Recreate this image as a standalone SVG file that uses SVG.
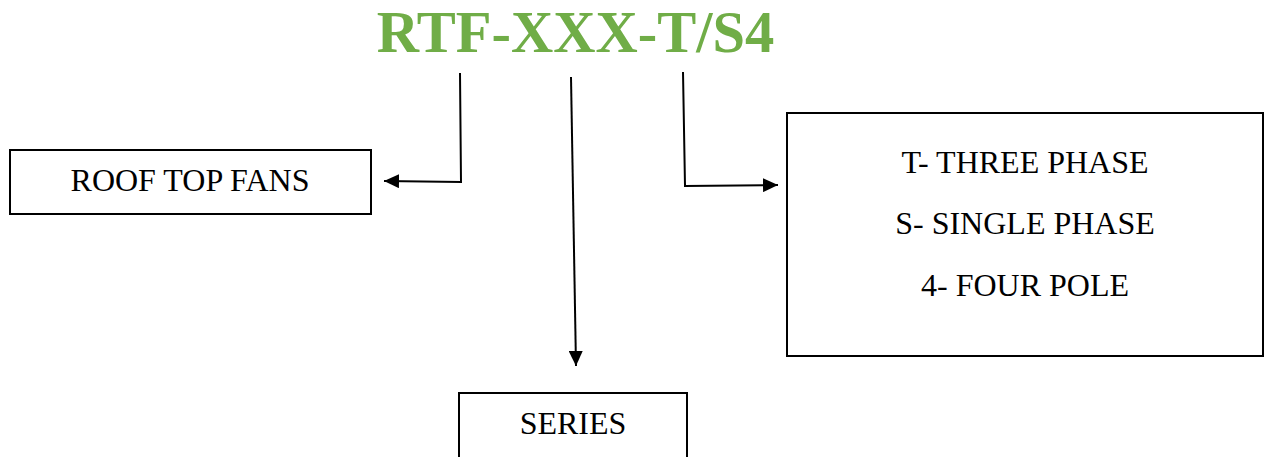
<svg xmlns="http://www.w3.org/2000/svg" width="1268" height="457" viewBox="0 0 1268 457">
  <style>
    .box { fill: #ffffff; stroke: #000000; stroke-width: 2; }
    .label { font-family: "Liberation Serif", "Times New Roman", serif; font-size: 32px; fill: #000000; text-anchor: middle; }
    .title { font-family: "Liberation Serif", "Times New Roman", serif; font-size: 58.5px; font-weight: bold; fill: #70AD47; text-anchor: middle; }
    .link { fill: none; stroke: #000000; stroke-width: 2; }
  </style>
  <defs>
    <marker id="arrow" viewBox="0 0 15 14" refX="15" refY="7" markerWidth="15" markerHeight="14" markerUnits="userSpaceOnUse" orient="auto">
      <path d="M0,0 L15,7 L0,14 Z" fill="#000000"/>
    </marker>
  </defs>
  <rect width="1268" height="457" fill="#ffffff"/>

  <g id="title">
    <text class="title" x="575.5" y="52">RTF-XXX-T/S4</text>
  </g>

  <g id="node-roof-top-fans">
    <rect class="box" x="10" y="150" width="361" height="64"/>
    <text class="label" x="190" y="191">ROOF TOP FANS</text>
  </g>

  <g id="node-phase">
    <rect class="box" x="787" y="113" width="476" height="243"/>
    <text class="label" x="1025" y="173">T- THREE PHASE</text>
    <text class="label" x="1025" y="234">S- SINGLE PHASE</text>
    <text class="label" x="1025" y="296">4- FOUR POLE</text>
  </g>

  <g id="node-series">
    <rect class="box" x="459" y="393" width="228" height="80"/>
    <text class="label" x="573" y="434">SERIES</text>
  </g>

  <g id="connectors">
    <path class="link" d="M460,73 L461,182 L384,181" marker-end="url(#arrow)"/>
    <path class="link" d="M571,77 L576,366" marker-end="url(#arrow)"/>
    <path class="link" d="M683,72 L685,186 L778,185" marker-end="url(#arrow)"/>
  </g>
</svg>
